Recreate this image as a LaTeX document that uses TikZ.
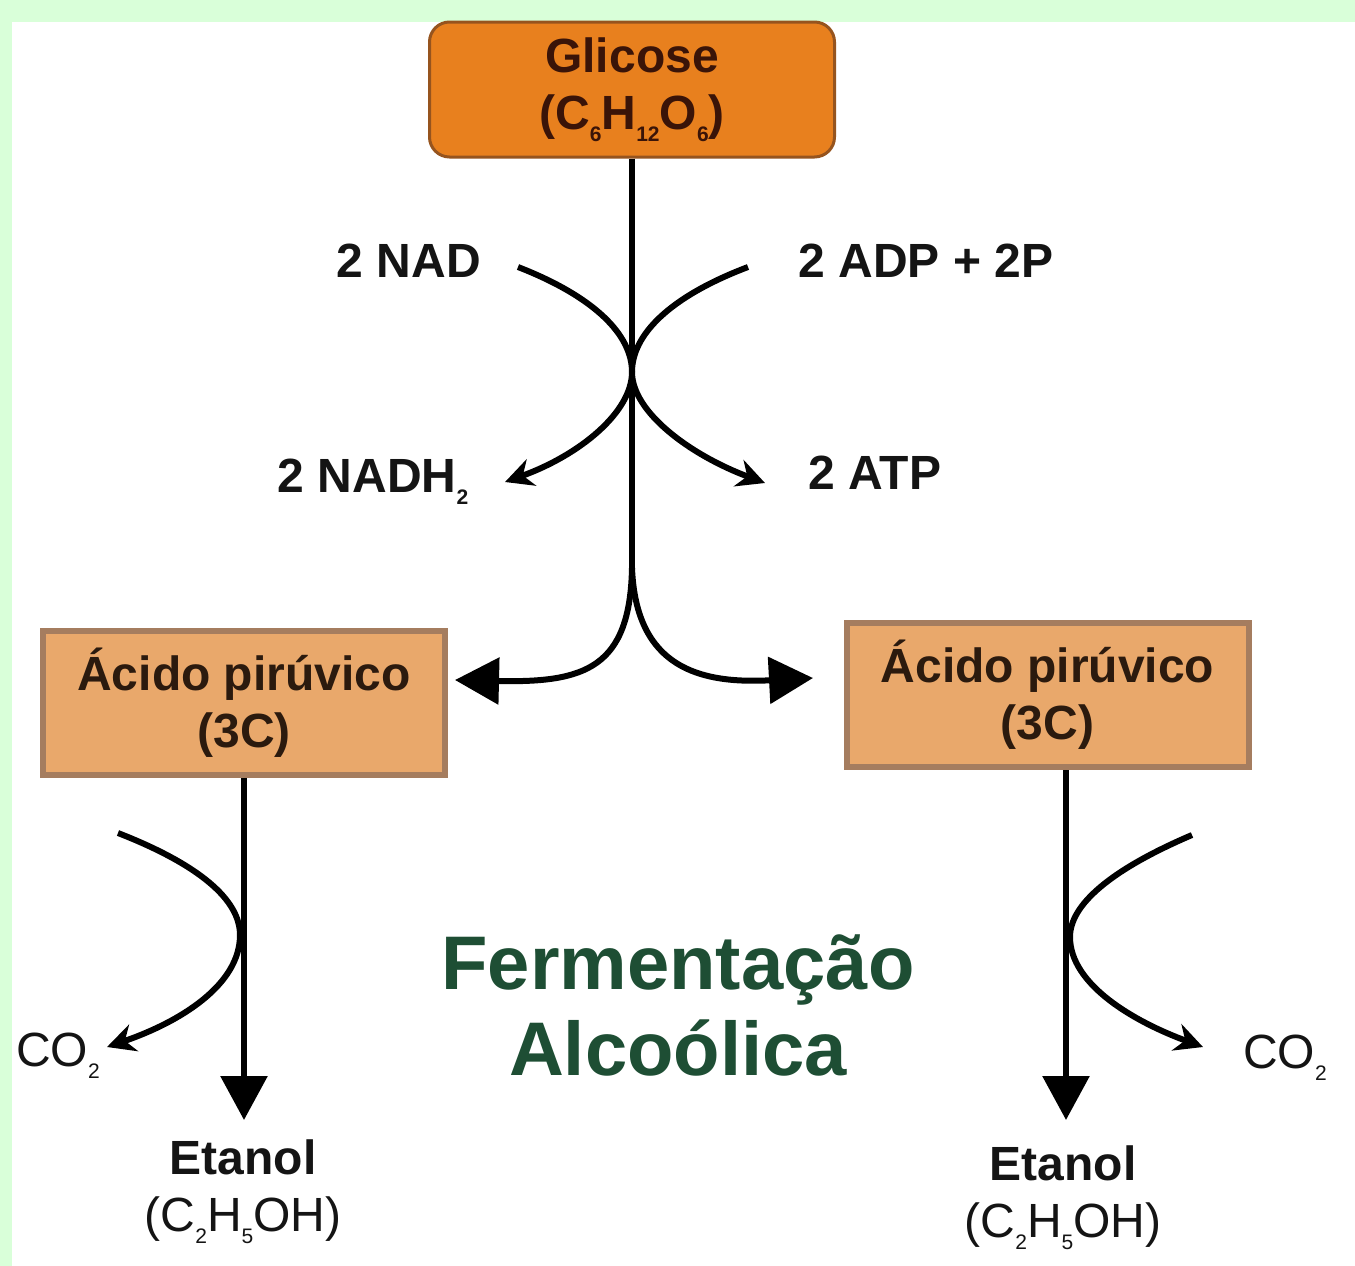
\documentclass[tikz,border=0pt]{standalone}
\usepackage{fontspec}
\setmainfont{Liberation Sans}
\usetikzlibrary{arrows.meta}
\definecolor{bggreen}{RGB}{217,255,217}
\definecolor{glcfill}{RGB}{232,128,30}
\definecolor{glcdraw}{RGB}{150,84,30}
\definecolor{glctext}{RGB}{58,20,8}
\definecolor{pyrfill}{RGB}{233,168,107}
\definecolor{pyrdraw}{RGB}{165,125,95}
\definecolor{pyrtext}{RGB}{43,26,14}
\definecolor{titlegreen}{RGB}{30,78,52}
\definecolor{ink}{RGB}{20,20,20}
\newcommand{\chsub}[1]{\raisebox{-0.25em}{\fontsize{21}{21}\selectfont #1}}
\begin{document}
\begin{tikzpicture}[x=1pt,y=-1pt,
  lbl/.style={inner sep=0pt, text=ink, font=\fontsize{48}{57}\selectfont\bfseries, align=center},
  lblreg/.style={inner sep=0pt, text=ink, font=\fontsize{48}{57}\selectfont, align=center},
  glcbox/.style={draw=glcdraw, line width=3pt, fill=glcfill, rounded corners=20pt,
     minimum width=405pt, minimum height=135pt, inner sep=0pt, text=glctext,
     font=\fontsize{48}{57}\selectfont\bfseries, align=center},
  pyrbox/.style={draw=pyrdraw, line width=6pt, fill=pyrfill,
     minimum width=402pt, minimum height=144pt, inner sep=0pt, text=pyrtext,
     font=\fontsize{48}{57}\selectfont\bfseries, align=center},
  ln/.style={draw=black, line width=6pt},
  small/.style={ln, -{Stealth[length=28pt, width=28pt]}},
  big/.style={ln, -{Triangle[length=44pt, width=46pt]}}
]
\useasboundingbox (0,0) rectangle (1355,1266);
\fill[bggreen] (0,0) rectangle (1355,1266);
\fill[white] (12,22) rectangle (1355,1266);

% nodes
\node[glcbox] (glc) at (632,89.5) {Glicose\\(C\chsub{6}H\chsub{12}O\chsub{6})};
\node[lbl] (nad) at (409,261) {2 NAD};
\node[lbl] (adp) at (926,261) {2 ADP + 2P};
\node[lbl] (nadh) at (373,482) {2 NADH\chsub{2}};
\node[lbl] (atp) at (875,473) {2 ATP};
\node[pyrbox] (pl) at (244,703) {Ácido pirúvico\\(3C)};
\node[pyrbox] (pr) at (1047.5,695) {Ácido pirúvico\\(3C)};
\node[lblreg] (co2l) at (58,1056) {CO\chsub{2}};
\node[lblreg] (co2r) at (1285,1058) {CO\chsub{2}};
\node[lbl] (etl) at (243,1192) {Etanol\\\mdseries(C\chsub{2}H\chsub{5}OH)};
\node[lbl] (etr) at (1063,1198) {Etanol\\\mdseries(C\chsub{2}H\chsub{5}OH)};
\node[inner sep=0pt, text=titlegreen, font=\fontsize{76}{86}\selectfont\bfseries, align=center]
  (title) at (678,1005) {Fermentação\\Alcoólica};

% coordinates
\coordinate (split) at (632,568);
\coordinate (touch) at (632,372);
\coordinate (nadS) at (518,267);
\coordinate (adpS) at (748,267);
\coordinate (nadhE) at (505,482);
\coordinate (atpE) at (765,483);
\coordinate (plin) at (455,680);
\coordinate (prin) at (813,678);
\coordinate (lv) at (244,1120);
\coordinate (rv) at (1066,1120);
\coordinate (lcS) at (118,833);
\coordinate (lcT) at (240,935);
\coordinate (lcE) at (107,1047);
\coordinate (rcS) at (1192,835);
\coordinate (rcT) at (1070,937);
\coordinate (rcE) at (1203,1047);

% main trunk
\draw[ln] (glc.south) -- (split);
\draw[big] (split) .. controls (630,668) and (585,683) .. (plin);
\draw[big] (split) .. controls (636,668) and (700,684) .. (prin);

% crossing curves
\draw[small] (nadS) .. controls (595,297) and (632,335) .. (touch)
  .. controls (632,412) and (580,455) .. (nadhE);
\draw[small] (adpS) .. controls (669,297) and (632,335) .. (touch)
  .. controls (632,412) and (690,455) .. (atpE);

% lower verticals
\draw[big] (pl.south) -- (lv);
\draw[big] (pr.south -| rv) -- (rv);

% CO2 curves
\draw[small] (lcS) .. controls (200,865) and (240,900) .. (lcT)
  .. controls (240,985) and (180,1022) .. (lcE);
\draw[small] (rcS) .. controls (1110,870) and (1070,905) .. (rcT)
  .. controls (1070,985) and (1135,1022) .. (rcE);
\end{tikzpicture}
\end{document}
